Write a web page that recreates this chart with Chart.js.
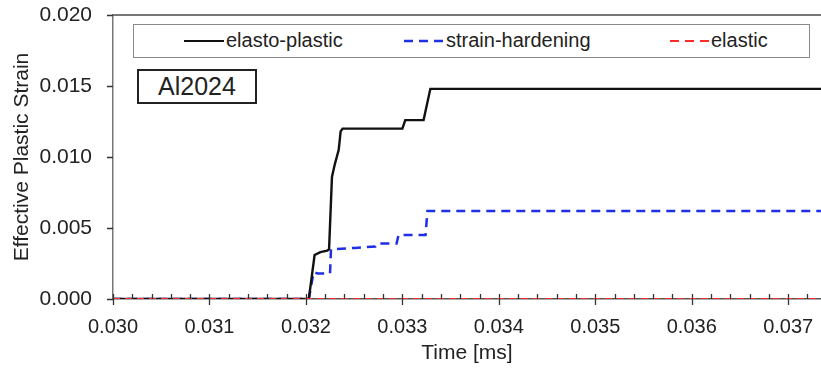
<!DOCTYPE html>
<html>
<head>
<meta charset="utf-8">
<script src="https://cdn.jsdelivr.net/npm/chart.js@4/dist/chart.umd.min.js"></script>
<style>
    html, body { margin: 0; padding: 0; background: #fff; }
    #wrap { position: relative; width: 821px; height: 374px; overflow: hidden; font-family: "Liberation Sans", Arial, sans-serif; color: #222; }
    #chart { position: absolute; left: 0; top: 0; }
    .legend { position: absolute; left: 133px; top: 24px; width: 677px; height: 34px; box-sizing: border-box; border: 1.5px solid #8a8a8a; background: #fff; }
    .item { position: absolute; top: 0; height: 31px; display: flex; align-items: center; font-size: 20px; white-space: nowrap; }
    .item svg { margin-right: 2px; }
    .tag { position: absolute; left: 137px; top: 69px; width: 120px; height: 35px; box-sizing: border-box; border: 2px solid #222; background: #fff; font-size: 25px; display: flex; align-items: center; justify-content: center; }
</style>
</head>
<body>
<div id="wrap">
    <canvas id="chart" width="821" height="374"></canvas>
    <div class="legend">
        <div class="item" style="left:50px"><svg width="40" height="6"><line x1="0" y1="3" x2="40" y2="3" stroke="#111" stroke-width="2.2"/></svg>elasto-plastic</div>
        <div class="item" style="left:270px"><svg width="40" height="6"><line x1="0" y1="3" x2="40" y2="3" stroke="#1f2fe6" stroke-width="2.5" stroke-dasharray="9 6"/></svg>strain-hardening</div>
        <div class="item" style="left:536px"><svg width="39" height="6"><line x1="0" y1="3" x2="39" y2="3" stroke="#ff2a2a" stroke-width="2.2" stroke-dasharray="9 6"/></svg>elastic</div>
    </div>
    <div class="tag">Al2024</div>
</div>
<script>
// valores
const epTime = [0.0300, 0.03203, 0.03209, 0.03215, 0.03222, 0.03224, 0.03227, 0.03230, 0.03232, 0.03234, 0.03236, 0.03238, 0.03255, 0.03300, 0.03303, 0.03322, 0.03329, 0.0375];
const epStrain = [0, 0, 0.0031, 0.0033, 0.0034, 0.0035, 0.0086, 0.0095, 0.0100, 0.0105, 0.0118, 0.0120, 0.0120, 0.0120, 0.0126, 0.0126, 0.0148, 0.0148];

const shTime = [0.0300, 0.03203, 0.03208, 0.03212, 0.03225, 0.03226, 0.03251, 0.03272, 0.03274, 0.03294, 0.03296, 0.03324, 0.03326, 0.0375];
const shStrain = [0, 0, 0.0019, 0.0018, 0.0018, 0.0035, 0.0036, 0.0037, 0.0039, 0.0039, 0.0045, 0.0045, 0.0062, 0.0062];

const elTime = [0.0300, 0.0375];
const elStrain = [0, 0];

const xMajorTicks = [0.030, 0.031, 0.032, 0.033, 0.034, 0.035, 0.036, 0.037];
const yMajorTicks = [0.000, 0.005, 0.010, 0.015, 0.020];

function toPoints(xs, ys) {
    return xs.map((x, i) => ({ x: x, y: ys[i] }));
}

// marcas de los ejes y borde superior
const axisMarks = {
    id: "axisMarks",
    afterDraw(chart) {
        const ctx = chart.ctx;
        const xs = chart.scales.x;
        const ys = chart.scales.y;
        const area = chart.chartArea;
        ctx.save();
        ctx.strokeStyle = "#777";
        ctx.lineWidth = 2;
        ctx.beginPath();
        ctx.moveTo(area.left, area.top);
        ctx.lineTo(area.right, area.top);
        ctx.stroke();

        ctx.strokeStyle = "#333";
        ctx.lineWidth = 1.3;
        ctx.beginPath();
        for (let i = 0; i <= 40; i++) {
            const v = 0.030 + i * 0.0002;
            const px = Math.round(xs.getPixelForValue(v)) + 0.5;
            if (px > area.right) break;
            if (i % 5 === 0) {
                ctx.moveTo(px, area.bottom - 5);
                ctx.lineTo(px, area.bottom + 6);
            } else {
                ctx.moveTo(px, area.bottom - 5);
                ctx.lineTo(px, area.bottom);
            }
        }
        yMajorTicks.forEach(v => {
            const py = Math.round(ys.getPixelForValue(v)) + 0.5;
            ctx.moveTo(area.left - 6, py);
            ctx.lineTo(area.left, py);
        });
        ctx.stroke();
        ctx.restore();
    }
};

new Chart(document.getElementById("chart"), {
    type: "line",
    data: {
        datasets: [
            {
                label: "elastic",
                data: toPoints(elTime, elStrain),
                borderColor: "#ff2a2a",
                borderWidth: 2.2,
                borderDash: [7, 5],
                pointRadius: 0
            },
            {
                label: "elasto-plastic",
                data: toPoints(epTime, epStrain),
                borderColor: "#111",
                borderWidth: 2.4,
                pointRadius: 0
            },
            {
                label: "strain-hardening",
                data: toPoints(shTime, shStrain),
                borderColor: "#1f2fe6",
                borderWidth: 2.5,
                borderDash: [9, 6],
                pointRadius: 0
            }
        ]
    },
    options: {
        responsive: false,
        animation: false,
        devicePixelRatio: 1,
        layout: { padding: { top: 15, right: 0, left: 0, bottom: 0 } },
        plugins: {
            legend: { display: false },
            tooltip: { enabled: false }
        },
        scales: {
            x: {
                type: "linear",
                min: 0.030,
                max: 0.03734,
                afterFit(scale) {
                    scale.height = 75;
                    scale.paddingLeft = 0;
                    scale.paddingRight = 0;
                },
                afterBuildTicks(scale) { scale.ticks = xMajorTicks.map(v => ({ value: v })); },
                grid: { display: false },
                border: { display: true, color: "#555", width: 1.5 },
                ticks: {
                    padding: 8,
                    color: "#222",
                    font: { family: "Liberation Sans", size: 20 },
                    maxRotation: 0,
                    callback: v => Number(v).toFixed(3)
                },
                title: {
                    display: true,
                    text: "Time [ms]",
                    color: "#222",
                    font: { family: "Liberation Sans", size: 21 },
                    padding: { top: 0, bottom: 8 }
                }
            },
            y: {
                min: 0,
                max: 0.020,
                afterFit(scale) {
                    scale.width = 113;
                    scale.paddingTop = 0;
                    scale.paddingBottom = 0;
                },
                afterBuildTicks(scale) { scale.ticks = yMajorTicks.map(v => ({ value: v })); },
                grid: { display: false },
                border: { display: true, color: "#777", width: 1.5 },
                ticks: {
                    padding: 13,
                    color: "#222",
                    font: { family: "Liberation Sans", size: 21 },
                    callback: v => Number(v).toFixed(3)
                },
                title: {
                    display: true,
                    text: "Effective Plastic Strain",
                    color: "#222",
                    font: { family: "Liberation Sans", size: 21 },
                    padding: { top: 10, bottom: 0 }
                }
            }
        }
    },
    plugins: [axisMarks]
});
</script>
</body>
</html>
